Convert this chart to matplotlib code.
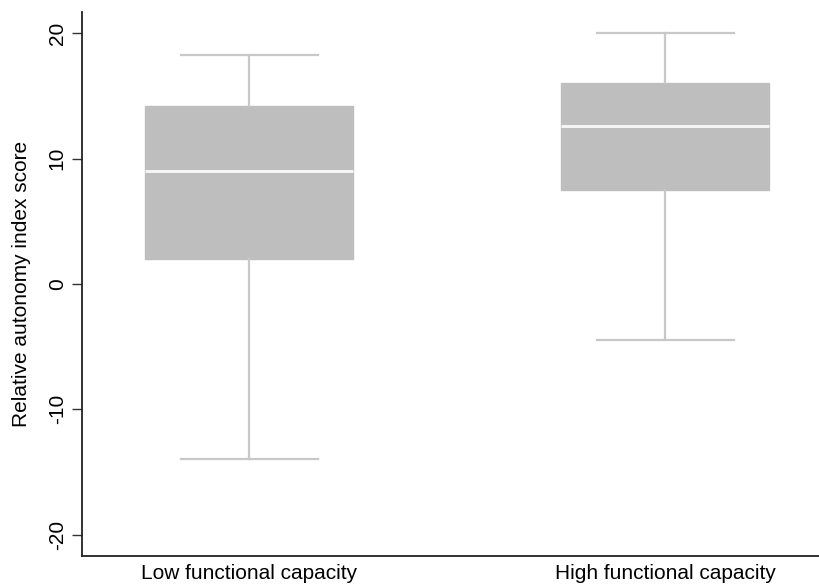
import matplotlib
matplotlib.use("Agg")
import matplotlib.pyplot as plt

# box summaries
groups = ["Low functional capacity", "High functional capacity"]
whisker_low = [-14.0, -4.5]
q1 = [2.0, 7.5]
medians = [9.0, 12.6]
q3 = [14.2, 16.0]
whisker_high = [18.3, 20.0]

plt.rcParams["font.family"] = ["Liberation Sans", "DejaVu Sans"]

stats = []
for i, name in enumerate(groups):
    stats.append({
        "label": name,
        "whislo": whisker_low[i],
        "q1": q1[i],
        "med": medians[i],
        "q3": q3[i],
        "whishi": whisker_high[i],
        "fliers": [],
    })

fig = plt.figure(figsize=(8.2, 5.86), dpi=100)
ax = fig.add_axes([0.1, 0.0512, 0.9, 0.9283])

box_grey = "#bebebe"
line_grey = "#c8c8c8"
ax.bxp(stats, positions=[1, 2], widths=0.5, patch_artist=True,
       showfliers=False, capwidths=0.33,
       boxprops=dict(facecolor=box_grey, edgecolor=box_grey, linewidth=1),
       medianprops=dict(color="#f4f4f4", linewidth=2.2),
       whiskerprops=dict(color=line_grey, linewidth=1.6),
       capprops=dict(color=line_grey, linewidth=1.6))

ax.set_xlim(0.598, 2.372)
ax.set_ylim(-21.7, 21.7)
ax.set_yticks([-20, -10, 0, 10, 20])
ax.set_yticklabels(["-20", "-10", "0", "10", "20"], rotation=90, va="center")
ax.tick_params(axis="y", labelsize=15, length=7, width=1, color="#333333", pad=4)
ax.tick_params(axis="x", labelsize=15, length=0, pad=6)
ax.set_ylabel("Relative autonomy index score", fontsize=15, labelpad=12)

for side in ["top", "right"]:
    ax.spines[side].set_visible(False)
for side in ["left", "bottom"]:
    ax.spines[side].set_linewidth(1.3)
    ax.spines[side].set_color("#222222")

fig.savefig("out.png", dpi=100)
